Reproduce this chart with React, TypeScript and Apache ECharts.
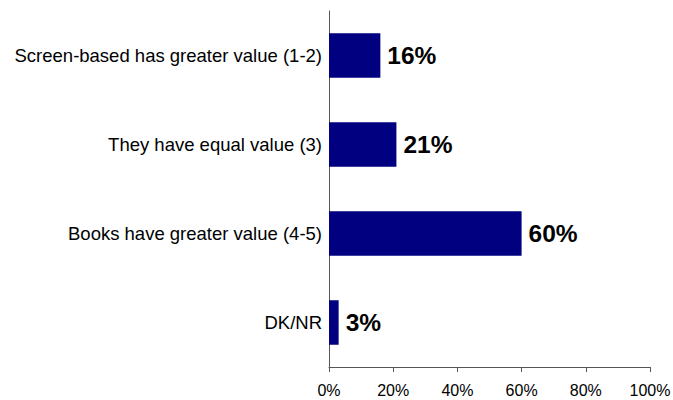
import React, { useEffect, useRef } from "react";
import * as echarts from "echarts";

const categories = [
  "Screen-based has greater value (1-2)",
  "They have equal value (3)",
  "Books have greater value (4-5)",
  "DK/NR",
];
const values = [16, 21, 60, 3];
const xTicks = [0, 20, 40, 60, 80, 100];

export default function App() {
  const ref = useRef<HTMLDivElement>(null);
  useEffect(() => {
    if (!ref.current) return;
    const chart = echarts.init(ref.current, null, { renderer: "svg" });
    chart.setOption({
      animation: false,
      backgroundColor: "#ffffff",
      grid: {
        left: 329,
        right: 23,
        top: 11,
        bottom: 33,
        containLabel: false,
        outerBoundsMode: "none",
      },
      xAxis: {
        type: "value",
        min: xTicks[0],
        max: xTicks[xTicks.length - 1],
        interval: 20,
        axisLine: { show: true, lineStyle: { color: "#555555", width: 1 } },
        axisTick: { show: true, length: 5, lineStyle: { color: "#555555" } },
        splitLine: { show: false },
        axisLabel: {
          formatter: "{value}%",
          color: "#000000",
          fontFamily: "Liberation Sans, Arial, sans-serif",
          fontSize: 16,
          margin: 15,
        },
      },
      yAxis: {
        type: "category",
        inverse: true,
        data: categories,
        axisLine: { show: true, lineStyle: { color: "#555555", width: 1 } },
        axisTick: { show: false },
        axisLabel: {
          color: "#000000",
          fontFamily: "Liberation Sans, Arial, sans-serif",
          fontSize: 18.5,
          margin: 7,
        },
      },
      series: [
        {
          type: "bar",
          data: values,
          barWidth: "50%",
          itemStyle: { color: "#000080" },
          label: {
            show: true,
            position: "right",
            distance: 7,
            formatter: "{c}%",
            color: "#000000",
            fontWeight: "bold",
            fontFamily: "Liberation Sans, Arial, sans-serif",
            fontSize: 24.5,
          },
        },
      ],
    });
    return () => chart.dispose();
  }, []);
  return <div ref={ref} style={{ width: 673, height: 400, position: "absolute", left: 0, top: 0 }} />;
}
